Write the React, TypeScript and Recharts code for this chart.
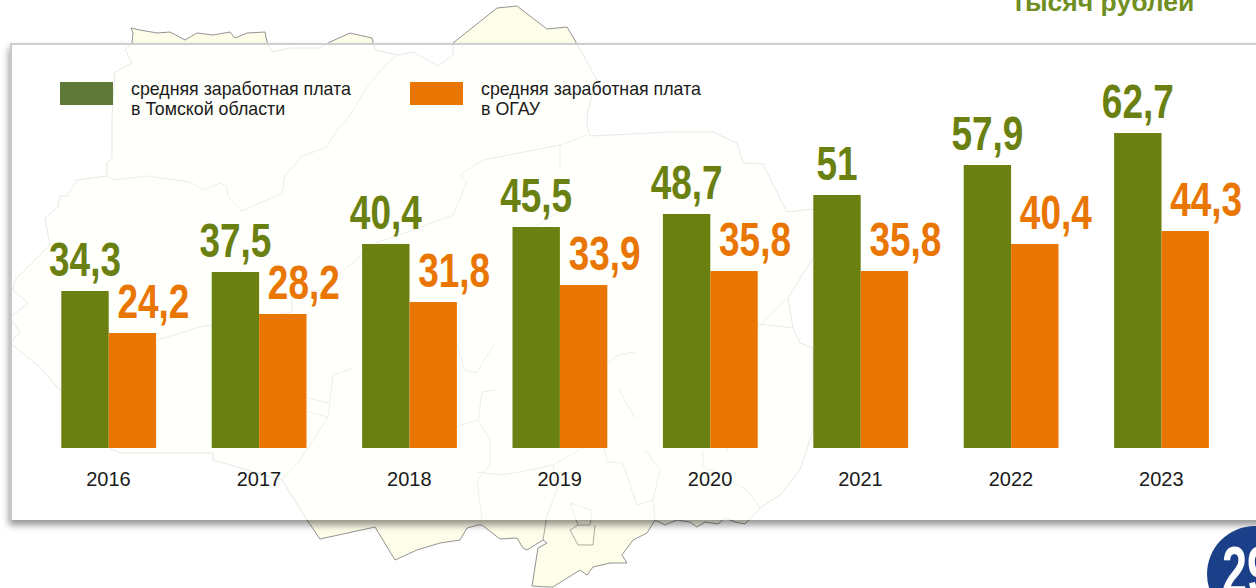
import React from 'react';
import { BarChart, Bar, XAxis, YAxis, Legend, LabelList } from 'recharts';

const years = ['2016', '2017', '2018', '2019', '2020', '2021', '2022', '2023'];

// printed values
const regionLabels = ['34,3', '37,5', '40,4', '45,5', '48,7', '51', '57,9', '62,7'];
const ogauLabels = ['24,2', '28,2', '31,8', '33,9', '35,8', '35,8', '40,4', '44,3'];

// bar heights as drawn in the picture, the slide is not quite to scale
const regionBars = [31.4, 35.2, 40.8, 44.2, 46.8, 50.6, 56.6, 63];
const ogauBars = [23, 26.8, 29.2, 32.6, 35.4, 35.4, 40.8, 43.4];

const regionName = 'средняя заработная плата\nв Томской области';
const ogauName = 'средняя заработная плата\nв ОГАУ';

const GREEN = '#6a8010';
const ORANGE = '#e97602';
const SANS = '"Liberation Sans", Arial, sans-serif';

const chartData = years.map((year, i) => ({
  year,
  region: regionBars[i],
  ogau: ogauBars[i],
  regionLabel: regionLabels[i],
  ogauLabel: ogauLabels[i],
}));

// background map of the region, decoration only
const mapOutline =
  'M131,28 L140,30 157,33 170,32 185,40 197,33 213,35 230,32 235,38 247,33 265,32 267,42 272,52 290,48 320,48 330,42 350,33 372,38 375,50 398,55 413,52 438,66 453,55 453,43 497,8 517,6 547,29 567,27 573,37 597,80 588,110 587,125 590,136 670,132 713,132 737,143 743,163 763,164 787,212 813,209 835,206 835,256 813,258 788,298 793,328 800,343 813,348 813,430 800,470 780,495 760,508 745,524 735,522 725,518 718,524 705,522 697,527 690,522 677,520 665,525 655,520 647,533 633,540 622,555 627,563 610,563 593,567 587,575 580,570 553,587 547,587 532,586 535,567 538,548 547,543 543,540 527,550 523,548 517,538 500,539 482,525 478,525 467,528 460,540 440,543 417,550 395,560 375,527 320,539 307,520 282,480 213,460 213,453 120,453 110,448 40,367 10,343 20,332 10,318 28,303 13,290 15,280 50,245 45,218 58,207 60,196 67,196 77,180 107,176 107,163 112,158 112,117 115,72 132,63 128,55 125,50 132,43 133,33 Z';

const mapLines = [
  'M398,55 L385,65 365,90 350,115 337,130 327,147 300,157 295,165 285,175 282,193 242,211 228,197 227,187 220,183 203,190 190,182 147,176 115,180 107,176',
  'M587,135 L560,145 483,160 460,175 467,182 453,215 400,235 377,242 320,290 292,293 292,312 212,325 200,327 157,340',
  'M560,145 L560,170 M557,213 L527,232 M445,343 L457,345 465,370 477,373 487,355 495,345',
  'M495,390 L482,392 478,420 445,430 M478,420 L490,440 490,465 477,480 482,520 M477,472 L500,475 520,472 553,465 580,450 602,435 607,462 623,463 632,490 637,505 653,500 655,520',
  'M553,465 L557,490 547,515 543,540 M585,380 L618,355 635,352 M618,388 L635,418 M645,450 L660,470 653,500',
  'M703,450 L703,465 708,470 715,470 705,480 707,485 733,482 747,490 760,508 M748,340 L727,450',
  'M333,375 L353,368 M333,375 L328,417 300,460 282,480 M303,397 L328,403 M303,410 L328,417',
  'M740,345 L788,298 M793,328 L745,322',
  'M570,503 L582,507 592,510 590,525 578,525 570,530 578,545 593,545 595,525 M570,503 L575,518 578,525',
];

// no narrow bold font on the box, so squeeze the regular bold one
function BigLabel({ x, y, width, value, fill, shift }: any) {
  return (
    <text
      transform={`translate(${x + width / 2 + shift},${y - 15}) scale(0.77,1)`}
      textAnchor="middle"
      fill={fill}
      fontFamily={SANS}
      fontWeight={700}
      fontSize={48}
    >
      {value}
    </text>
  );
}

function LegendBox() {
  const items = [
    { name: regionName, color: '#5f7a38', left: 60 },
    { name: ogauName, color: ORANGE, left: 410 },
  ];
  return (
    <div>
      {items.map((item) => (
        <div key={item.left} style={{ position: 'absolute', left: item.left, top: 82 }}>
          <div style={{ width: 53, height: 23, background: item.color }} />
          <div
            style={{
              position: 'absolute',
              left: 71,
              top: -2,
              whiteSpace: 'pre',
              fontFamily: SANS,
              fontSize: 17.8,
              lineHeight: '19.5px',
              color: '#1a1a1a',
            }}
          >
            {item.name}
          </div>
        </div>
      ))}
    </div>
  );
}

export default function App() {
  return (
    <div style={{ position: 'absolute', left: 0, top: 0, width: 1256, height: 588, overflow: 'hidden', background: '#fff' }}>
      <svg width={1256} height={588} style={{ position: 'absolute', left: 0, top: 0 }}>
        <path d={mapOutline} fill="#fefdea" stroke="#777" strokeWidth={0.8} />
        {mapLines.map((d) => (
          <path key={d} d={d} fill="none" stroke="#888" strokeWidth={0.7} />
        ))}
      </svg>

      <div
        style={{
          position: 'absolute',
          left: 10,
          top: 43,
          width: 1300,
          height: 477,
          boxSizing: 'border-box',
          background: 'rgba(255,255,255,0.78)',
          borderTop: '2px solid #cfcfcf',
          borderLeft: '2px solid #c8c8c8',
          boxShadow: '-1px 5px 7px rgba(0,0,0,0.42)',
        }}
      />

      <div
        style={{
          position: 'absolute',
          left: 1012,
          top: -14,
          fontFamily: SANS,
          fontWeight: 700,
          fontSize: 26.5,
          lineHeight: '32px',
          color: '#6f8f22',
          whiteSpace: 'nowrap',
        }}
      >
        тысяч рублей
      </div>

      <svg width={1256} height={588} style={{ position: 'absolute', left: 0, top: 0 }}>
        <circle cx={1255} cy={574} r={48} fill="#1c3f8a" />
        <text
          transform="translate(1222,594) scale(0.66,1)"
          fill="#fff"
          fontFamily={SANS}
          fontWeight={700}
          fontSize={68}
        >
          29
        </text>
      </svg>

      <div style={{ position: 'absolute', left: 0, top: 0 }}>
        <BarChart
          width={1256}
          height={588}
          data={chartData}
          margin={{ top: 48, right: 19.5, bottom: 110, left: 33.3 }}
          barGap={0}
        >
          <XAxis
            dataKey="year"
            height={30}
            axisLine={false}
            tickLine={false}
            interval={0}
            tick={{ fill: '#1a1a1a', fontFamily: SANS, fontSize: 20 }}
            tickMargin={18}
          />
          <YAxis hide domain={[0, 80]} />
          <Legend
            layout="horizontal"
            verticalAlign="middle"
            align="center"
            content={<LegendBox />}
            wrapperStyle={{ position: 'absolute', left: 0, top: 0, width: 0, height: 0 }}
          />
          <Bar dataKey="region" name={regionName} fill={GREEN} barSize={47.4} isAnimationActive={false}>
            <LabelList dataKey="regionLabel" content={(p: any) => <BigLabel {...p} fill={GREEN} shift={0} />} />
          </Bar>
          <Bar dataKey="ogau" name={ogauName} fill={ORANGE} barSize={47.4} isAnimationActive={false}>
            <LabelList dataKey="ogauLabel" content={(p: any) => <BigLabel {...p} fill={ORANGE} shift={21} />} />
          </Bar>
        </BarChart>
      </div>
    </div>
  );
}
